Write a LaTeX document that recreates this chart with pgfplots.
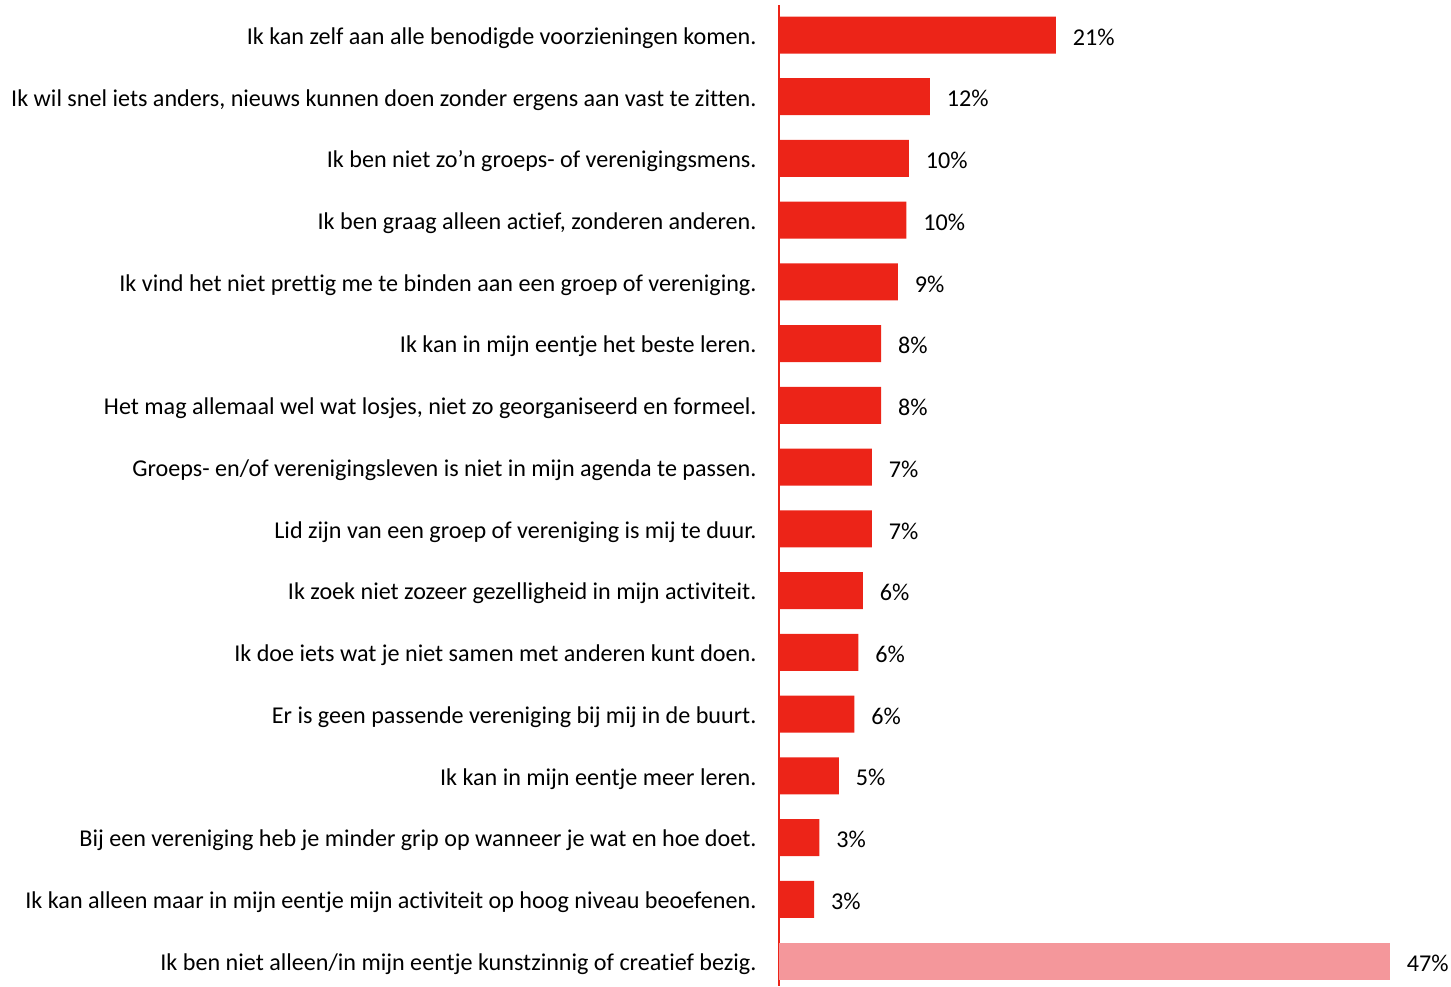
\documentclass[border=0pt]{standalone}
\usepackage{fontspec}
\setmainfont{Carlito}[Ligatures=NoCommon]
\usepackage{pgfplots}
\pgfplotsset{compat=1.18}
\definecolor{barred}{HTML}{EC2418}
\definecolor{barpink}{HTML}{F4979B}
\begin{document}
\fontsize{9.65}{11}\selectfont
\begin{tikzpicture}
\useasboundingbox (-311.6pt,0pt) rectangle (268.8pt,394.4pt);
\begin{axis}[
  at={(0pt,0pt)}, anchor=south west,
  scale only axis,
  width=244.4pt, height=392.4pt,
  xbar, bar width=14.8pt, bar shift=0pt,
  xmin=0, xmax=47,
  ymin=-0.486, ymax=15.405,
  y dir=reverse,
  axis x line=none,
  axis y line*=left,
  y axis line style={draw=barred, line width=0.6pt},
  ytick={0,...,15},
  yticklabels={
    {Ik kan zelf aan alle benodigde voorzieningen komen.},
    {Ik wil snel iets anders, nieuws kunnen doen zonder ergens aan vast te zitten.},
    {Ik ben niet zo’n groeps- of verenigingsmens.},
    {Ik ben graag alleen actief, zonderen anderen.},
    {Ik vind het niet prettig me te binden aan een groep of vereniging.},
    {Ik kan in mijn eentje het beste leren.},
    {Het mag allemaal wel wat losjes, niet zo georganiseerd en formeel.},
    {Groeps- en/of verenigingsleven is niet in mijn agenda te passen.},
    {Lid zijn van een groep of vereniging is mij te duur.},
    {Ik zoek niet zozeer gezelligheid in mijn activiteit.},
    {Ik doe iets wat je niet samen met anderen kunt doen.},
    {Er is geen passende vereniging bij mij in de buurt.},
    {Ik kan in mijn eentje meer leren.},
    {Bij een vereniging heb je minder grip op wanneer je wat en hoe doet.},
    {Ik kan alleen maar in mijn eentje mijn activiteit op hoog niveau beoefenen.},
    {Ik ben niet alleen/in mijn eentje kunstzinnig of creatief bezig.}
  },
  major tick length=0pt,
  yticklabel style={font=\fontsize{9.65}{11}\selectfont, text=black, xshift=-5.6pt, yshift=-1.2pt},
  point meta=explicit symbolic,
  nodes near coords={\pgfplotspointmeta},
  nodes near coords style={anchor=west, inner sep=0pt, xshift=6.6pt, yshift=-0.8pt, font=\fontsize{9.65}{11}\selectfont, text=black},
  clip=false,
]
\addplot[draw=none, fill=barred] coordinates {
  (21.3,0) [21\%]
  (11.6,1) [12\%]
  (10.0,2) [10\%]
  (9.8,3) [10\%]
  (9.15,4) [9\%]
  (7.85,5) [8\%]
  (7.85,6) [8\%]
  (7.15,7) [7\%]
  (7.15,8) [7\%]
  (6.45,9) [6\%]
  (6.1,10) [6\%]
  (5.8,11) [6\%]
  (4.6,12) [5\%]
  (3.1,13) [3\%]
  (2.7,14) [3\%]
};
\addplot[draw=none, fill=barpink] coordinates {
  (47,15) [47\%]
};
\end{axis}
\end{tikzpicture}
\end{document}
